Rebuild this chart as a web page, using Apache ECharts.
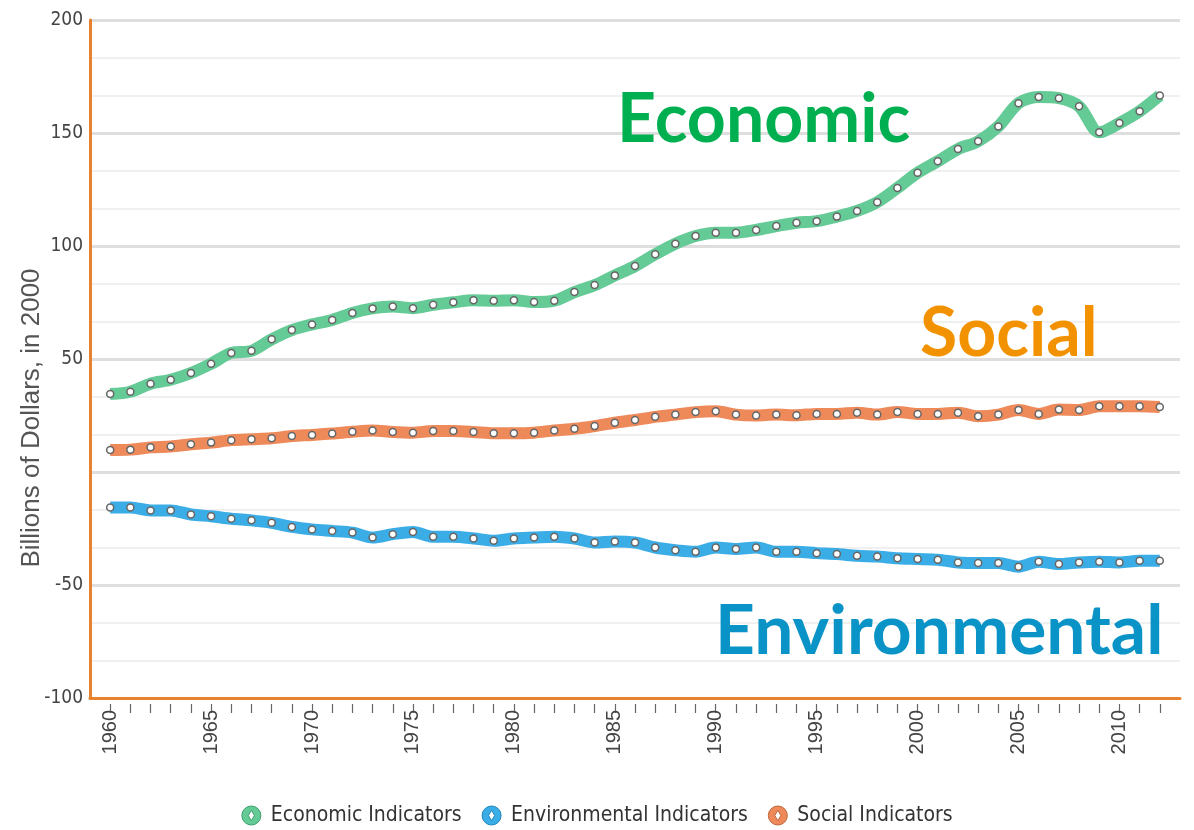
<!DOCTYPE html>
<html>
<head>
<meta charset="utf-8">
<script src="https://cdn.jsdelivr.net/npm/echarts@6/dist/echarts.min.js"></script>
<style>
html,body{margin:0;padding:0;background:#fff;}
#chart{width:1194px;height:830px;}
</style>
</head>
<body>
<div id="chart"></div>
<script>
const years = [];
for (let y = 1960; y <= 2012; y++) years.push(y);
const labelYears = [1960, 1965, 1970, 1975, 1980, 1985, 1990, 1995, 2000, 2005, 2010];

const economic = [34.5, 35.5, 39.1, 40.8, 43.8, 47.9, 52.7, 53.6, 58.7, 62.8,
  65.3, 67.3, 70.4, 72.4, 73.2, 72.5, 74.0, 75.1, 76.0, 75.8,
  76.0, 75.2, 75.8, 79.6, 82.7, 87.0, 91.1, 96.3, 101.0, 104.4,
  105.9, 105.9, 107.1, 108.8, 110.3, 111.0, 113.0, 115.5, 119.4, 125.7,
  132.4, 137.5, 142.9, 146.3, 152.9, 163.2, 165.9, 165.4, 161.8, 150.3,
  154.4, 159.6, 166.6];
const social = [9.7, 9.9, 10.9, 11.3, 12.3, 13.0, 14.1, 14.5, 14.9, 15.9,
  16.4, 17.0, 17.8, 18.4, 17.7, 17.4, 18.1, 18.1, 17.7, 17.1,
  17.1, 17.4, 18.4, 19.1, 20.3, 21.8, 23.0, 24.4, 25.4, 26.5,
  26.9, 25.4, 25.0, 25.4, 25.1, 25.7, 25.7, 26.2, 25.4, 26.6,
  25.7, 25.7, 26.2, 24.7, 25.4, 27.4, 25.7, 27.6, 27.4, 29.1,
  29.1, 29.1, 28.8];
const environmental = [-15.7, -15.7, -17.0, -17.0, -18.8, -19.6, -20.7, -21.4, -22.5, -24.3,
  -25.4, -26.1, -26.8, -29.0, -27.5, -26.5, -28.7, -28.7, -29.4, -30.4,
  -29.4, -29.0, -28.6, -29.4, -31.2, -30.7, -31.2, -33.4, -34.6, -35.3,
  -33.4, -34.1, -33.4, -35.3, -35.3, -35.9, -36.3, -37.1, -37.4, -38.2,
  -38.5, -38.8, -40.0, -40.3, -40.3, -41.9, -39.7, -40.7, -40.0, -39.7,
  -40.0, -39.3, -39.3];

const seriesNames = ['Economic Indicators', 'Environmental Indicators', 'Social Indicators'];
const seriesColors = ['#64ca96', '#3aade6', '#ee8a5a'];
const seriesBorders = ['#3f9e6c', '#1f86bd', '#c0643a'];
const seriesValues = [economic, environmental, social];
const annotations = ['Economic', 'Social', 'Environmental'];
const annotationColors = ['#00b050', '#f39200', '#0a93c6'];
const yTitle = 'Billions of Dollars, in 2000';

const pair = vals => years.map((y, i) => [y, vals[i]]);

const legendIcon = 'path://M0,10 A10,10 0 1,1 20,10 A10,10 0 1,1 0,10 Z M10,4.5 L6.8,10 L10,15.5 L13.2,10 Z';

const chart = echarts.init(document.getElementById('chart'), null, {renderer: 'canvas'});
const narrow = '"DejaVu Sans Condensed", "Liberation Sans Narrow", "Liberation Sans", Arial, sans-serif';

const option = {
  animation: false,
  backgroundColor: '#fff',
  grid: {left: 90, top: 20, right: 14, bottom: 132, containLabel: false},
  xAxis: [{
    type: 'value', min: 1959, max: 2013,
    axisLine: {show: true, onZero: false, lineStyle: {color: '#e8822e', width: 3}},
    axisTick: {show: false},
    splitLine: {show: false},
    axisLabel: {
      customValues: labelYears, rotate: 90, margin: 12,
      color: '#444', fontSize: 20, fontFamily: '"Liberation Sans", Arial, sans-serif',
      formatter: v => String(v)
    }
  }, {
    type: 'value', min: 1959, max: 2013, position: 'bottom', offset: 6,
    axisLine: {show: false, onZero: false},
    axisTick: {show: true, customValues: years, length: 9, lineStyle: {color: '#666', width: 1.2}},
    axisLabel: {show: false},
    splitLine: {show: false}
  }],
  yAxis: {
    type: 'value', min: -100, max: 200, interval: 50,
    axisLine: {show: true, lineStyle: {color: '#e8822e', width: 3}},
    axisTick: {show: false},
    axisLabel: {
      color: '#444', fontSize: 19, fontFamily: narrow, margin: 7,
      formatter: v => (v === 0 ? '' : String(v))
    },
    splitLine: {show: true, lineStyle: {color: '#dedede', width: 3}},
    minorTick: {show: false, splitNumber: 3},
    minorSplitLine: {show: true, lineStyle: {color: '#f0f0f0', width: 2}}
  },
  legend: {
    left: 'center', top: 800,
    icon: legendIcon, itemWidth: 19, itemHeight: 20, itemGap: 20,
    textStyle: {color: '#333', fontSize: 21, fontFamily: narrow, padding: [0, 0, 0, 5]},
    data: seriesNames.map((n, i) => ({
      name: n,
      itemStyle: {color: seriesColors[i], borderColor: seriesBorders[i], borderWidth: 1}
    }))
  },
  series: seriesNames.map((n, i) => ({
    name: n, type: 'line', xAxisIndex: 0,
    data: pair(seriesValues[i]),
    smooth: 0.3,
    color: seriesColors[i],
    lineStyle: {color: seriesColors[i], width: 12},
    symbol: 'circle', symbolSize: 7, showSymbol: true,
    itemStyle: {color: '#ffffff', borderColor: '#666', borderWidth: 1.5},
    z: 3 + i
  })),
  graphic: [
    {type: 'text', x: 32, y: 418, rotation: Math.PI / 2, z: 100,
     style: {text: yTitle, fill: '#555', font: '26px "Liberation Sans", Arial, sans-serif',
             textAlign: 'center', textVerticalAlign: 'middle'}},
    {type: 'text', x: 617, y: 120, z: 100,
     style: {text: annotations[0], fill: annotationColors[0], font: 'bold 68px Lato, sans-serif', textVerticalAlign: 'middle'}},
    {type: 'text', x: 920, y: 334, z: 100,
     style: {text: annotations[1], fill: annotationColors[1], font: 'bold 68px Lato, sans-serif', textVerticalAlign: 'middle'}},
    {type: 'text', x: 715, y: 632, z: 100,
     style: {text: annotations[2], fill: annotationColors[2], font: 'bold 69.5px Lato, sans-serif', textVerticalAlign: 'middle'}}
  ]
};
chart.setOption(option);
</script>
</body>
</html>
